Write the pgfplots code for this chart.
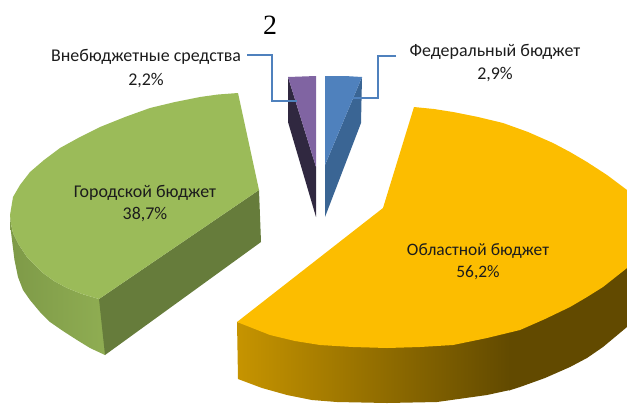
\documentclass[border=0pt]{standalone}
\usepackage{fontspec}
\setmainfont{Carlito}
\newfontfamily\titlefont{Liberation Serif}
\usepackage{pgfplots}
\pgfplotsset{compat=1.18}
\definecolor{gtop}{HTML}{9BBB59}
\definecolor{gcut}{HTML}{667C3B}
\definecolor{gsidea}{HTML}{7E9A48}
\definecolor{gsideb}{HTML}{8FAD52}
\definecolor{otop}{HTML}{FCBD00}
\definecolor{osidea}{HTML}{C69400}
\definecolor{osideb}{HTML}{624A00}
\definecolor{ptop}{HTML}{8064A2}
\definecolor{pside}{HTML}{302840}
\definecolor{btop}{HTML}{4F81BD}
\definecolor{bside}{HTML}{3A6594}
\definecolor{lead}{HTML}{4F81BD}
\definecolor{lbl}{HTML}{1C1C1C}
\begin{document}
\begin{tikzpicture}[x=1bp,y=1bp]
\path[use as bounding box] (0,0) rectangle (627,403);
\begin{axis}[at={(0,0)},anchor=south west,width=627bp,height=403bp,scale only axis,
  hide axis,xmin=0,xmax=627,ymin=0,ymax=403,y dir=reverse,clip=true]
% green outer side
\addplot[draw=none,left color=gsidea,right color=gsideb] coordinates {
(10,215)(10.5,228)(12,240)(14.5,260)(18,277)(23,290)(30,300)(40,312)(50,322)(63,331)(77,340)(90,348)(105,355)(105,299)(99,299)(82,294)(67,288)(54,281)(43,273)(27,257)(19,245)(13,233)(11,224)} -- cycle;
% green inner cut
\addplot[draw=none,fill=gcut] coordinates {(99,299)(259,190)(261,242)(105,355)} -- cycle;
% green top
\addplot[draw=none,fill=gtop] coordinates {
(238,93)(218,94.5)(200,97)(175,102)(150,108)(125,117)(100,127)(80,137)(60,148)(44,160)(30,172)(20,185)(13,197)(10,215)(11,224)(13,233)(19,245)(27,257)(43,273)(54,281)(67,288)(82,294)(99,299)(259,190)} -- cycle;
% orange side
\addplot[draw=none,left color=osidea,right color=osideb] coordinates {
(237,322)(238,379)(262,388)(287,395)(312,400)(337,402)(387,403)(437,402)(487,395)(510,390)(510,325)(453,335)(420,340)(387,340)(353,340)(320,338)(295,335)(270,330)} -- cycle;
\addplot[draw=none,fill=osideb] coordinates {
(509,325)(509,390.5)(520,387)(545,378)(570,367)(587,358)(603,347)(627,327)(627,260)(603,280)(570,300)(520,325)} -- cycle;
% orange top
\addplot[draw=none,fill=otop] coordinates {
(414,107)(434,109)(453,112)(478,117)(503,123)(528,132)(553,143)(570,152)(587,162)(607,175)(627,190)(627,268)(603,287)(587,297)(570,307)(545,319)(520,330)(487,338)(453,345)(420,347)(387,348)(353,347)(320,345)(295,341)(270,335)(237,322)(383,208)} -- cycle;
% purple
\addplot[draw=none,fill=pside] coordinates {(288,77)(316,167)(316,217)(288,122)} -- cycle;
\addplot[draw=none,fill=ptop] coordinates {(288,77)(316,76)(316,167)} -- cycle;
% blue
\addplot[draw=none,fill=bside] coordinates {(362,77)(325,165)(325,217)(361,123)} -- cycle;
\addplot[draw=none,fill=btop] coordinates {(325,76)(345,76)(362,77)(325,165)} -- cycle;
% leaders
\addplot[lead,line width=1.5pt] coordinates {(247,55)(272,55)(272,101)(297,101)};
\addplot[lead,line width=1.5pt] coordinates {(396,56)(378,56)(378,98)(342,98)};
\node[font=\titlefont\fontsize{28}{28}\selectfont,text=black] at (axis cs:270,25) {2};
\node[font=\fontsize{18}{18}\selectfont,text=lbl] at (axis cs:146,57) {Внебюджетные средства};
\node[font=\fontsize{18}{18}\selectfont,text=lbl] at (axis cs:146,81) {2,2\%};
\node[font=\fontsize{18}{18}\selectfont,text=lbl] at (axis cs:495,52) {Федеральный бюджет};
\node[font=\fontsize{18}{18}\selectfont,text=lbl] at (axis cs:495,75) {2,9\%};
\node[font=\fontsize{18}{18}\selectfont,text=lbl] at (axis cs:145,193) {Городской бюджет};
\node[font=\fontsize{18}{18}\selectfont,text=lbl] at (axis cs:145,215) {38,7\%};
\node[font=\fontsize{17.5}{17.5}\selectfont,text=lbl] at (axis cs:478,251) {Областной бюджет};
\node[font=\fontsize{17.5}{17.5}\selectfont,text=lbl] at (axis cs:478,273) {56,2\%};
\end{axis}
\end{tikzpicture}
\end{document}
